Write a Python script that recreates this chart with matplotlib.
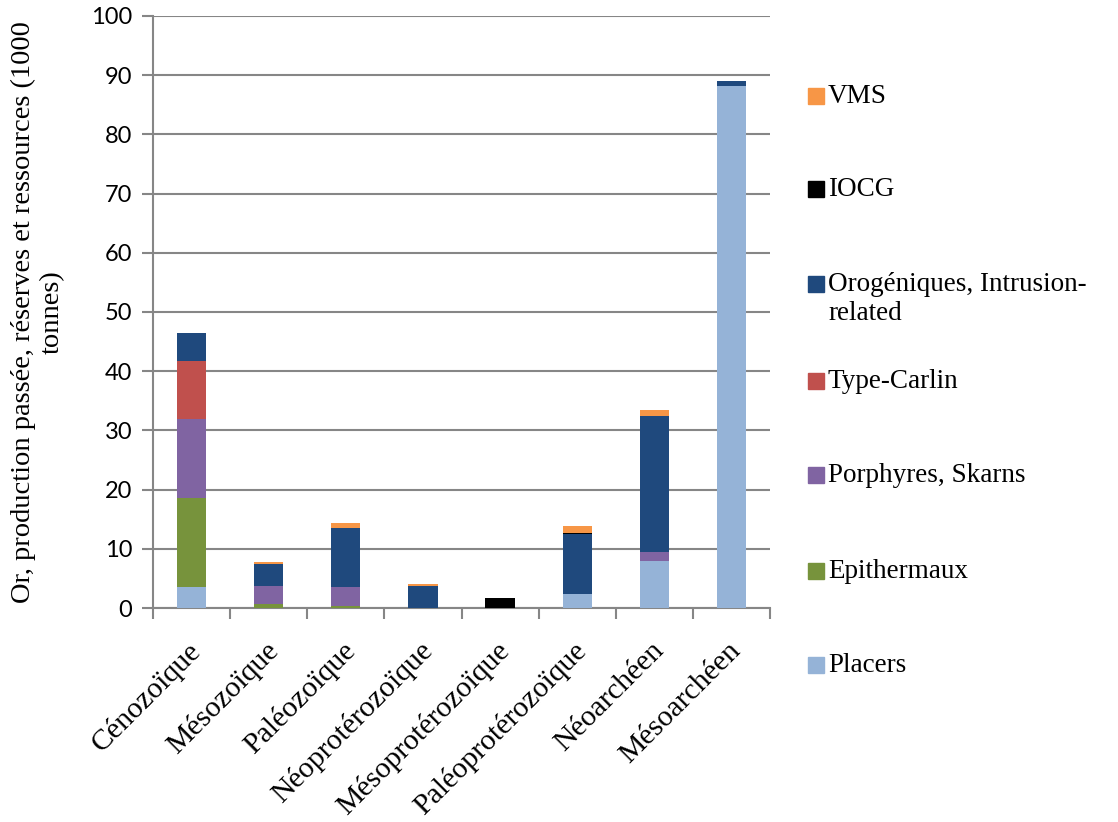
import numpy as np
import matplotlib
matplotlib.use('Agg')
import matplotlib.pyplot as plt
from matplotlib.patches import Rectangle

# Données (1000 tonnes)
periodes = ['Cénozoïque', 'Mésozoïque', 'Paléozoïque', 'Néoprotérozoïque',
            'Mésoprotérozoïque', 'Paléoprotérozoïque', 'Néoarchéen', 'Mésoarchéen']

placers = [3.5, 0.0, 0.0, 0.0, 0.0, 2.4, 7.9, 88.1]
epithermaux = [15.1, 0.75, 0.4, 0.0, 0.0, 0.0, 0.0, 0.0]
porphyres = [13.3, 3.05, 3.1, 0.0, 0.0, 0.0, 1.6, 0.0]
carlin = [9.8, 0.0, 0.0, 0.0, 0.0, 0.0, 0.0, 0.0]
orogeniques = [4.7, 3.65, 10.0, 3.8, 0.0, 10.1, 23.0, 1.0]
iocg = [0.0, 0.0, 0.0, 0.0, 1.75, 0.2, 0.0, 0.0]
vms = [0.0, 0.4, 0.8, 0.3, 0.0, 1.2, 1.0, 0.0]

series = [
    ('Placers', placers, '#95B3D7'),
    ('Epithermaux', epithermaux, '#77933C'),
    ('Porphyres, Skarns', porphyres, '#8064A2'),
    ('Type-Carlin', carlin, '#C0504D'),
    ('Orogéniques, Intrusion-\nrelated', orogeniques, '#1F497D'),
    ('IOCG', iocg, '#000000'),
    ('VMS', vms, '#F79646'),
]

serif = 'Liberation Serif'
sans = 'Lato'
gris = '#868686'

W, H = 1118, 822
fig = plt.figure(figsize=(W / 100, H / 100), dpi=100)
ax = fig.add_axes([153 / W, 1 - 608 / H, 617 / W, 592 / H])

x = np.arange(len(periodes))
bas = np.zeros(len(periodes))
for nom, vals, coul in series:
    vals = np.array(vals)
    ax.bar(x, vals, width=0.38, bottom=bas, color=coul, zorder=3)
    bas += vals

ax.set_xlim(-0.5, len(periodes) - 0.5)
ax.set_ylim(0, 100)
ax.set_yticks(np.arange(0, 101, 10))
ax.yaxis.grid(True, color=gris, lw=1.5, zorder=0)
ax.set_axisbelow(True)

for s in ['top', 'right']:
    ax.spines[s].set_visible(False)
for s in ['left', 'bottom']:
    ax.spines[s].set_color(gris)
    ax.spines[s].set_linewidth(1.5)

ax.tick_params(axis='y', length=8, width=1.5, color=gris, pad=7, labelsize=17)
for lab in ax.get_yticklabels():
    lab.set_fontfamily(sans)

# ticks x entre les catégories
ax.set_xticks(np.arange(-0.5, len(periodes), 1.0))
ax.set_xticklabels([])
ax.tick_params(axis='x', length=8, width=1.5, color=gris)
for i, p in enumerate(periodes):
    ax.annotate(p, xy=(i, 0), xycoords=('data', 'axes fraction'),
                xytext=(-3, -21), textcoords='offset points',
                rotation=45, ha='right', va='top', rotation_mode='anchor',
                fontsize=21.5, fontfamily=serif)

fig.text(38 / W, 1 - 312 / H,
         'Or, production passée, réserves et ressources (1000\ntonnes)',
         rotation=90, ha='center', va='center', multialignment='center',
         fontsize=20.5, fontfamily=serif, linespacing=1.2)

# légende manuelle
leg_y = [96, 189, 284, 381, 475, 571, 665]
for (nom, vals, coul), yy in zip(series[::-1], leg_y):
    fig.add_artist(Rectangle((808 / W, 1 - (yy + 8) / H), 16 / W, 16 / H,
                             transform=fig.transFigure, color=coul))
    fig.text(828 / W, 1 - (yy - 12) / H, nom, ha='left', va='top',
             fontsize=19.5, fontfamily=serif, linespacing=1.2)

fig.savefig('out.png', dpi=100)
